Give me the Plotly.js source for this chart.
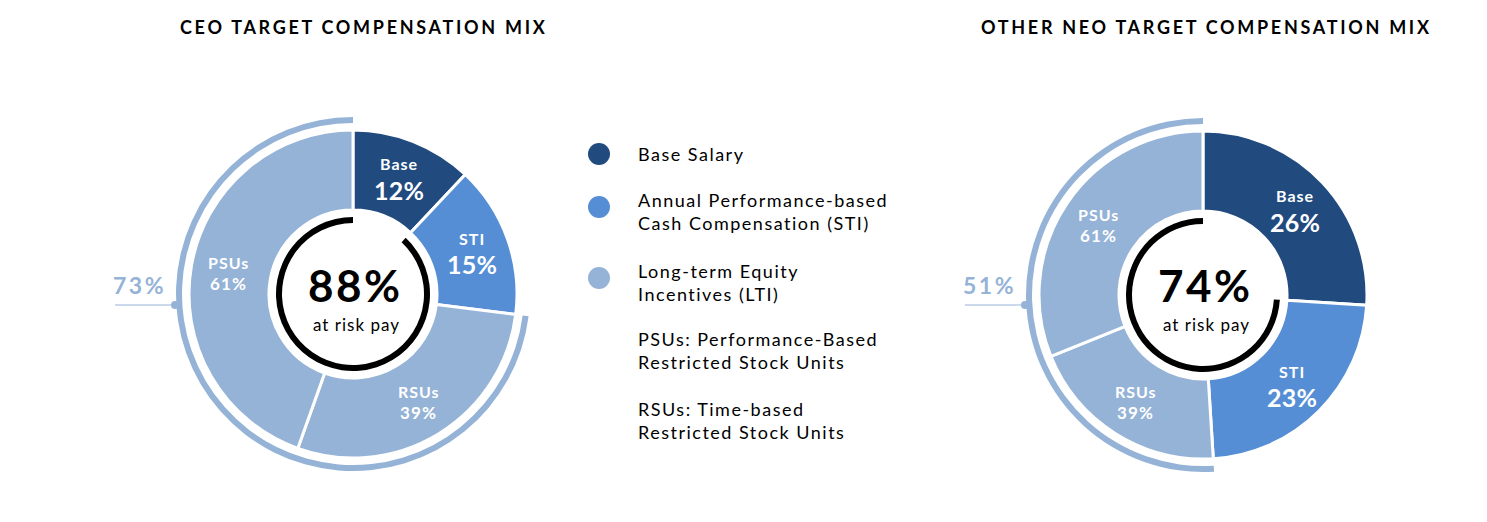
<!DOCTYPE html>
<html>
<head>
<meta charset="utf-8">
<script src="https://cdn.plot.ly/plotly-3.0.1.min.js"></script>
<style>
html,body{margin:0;padding:0;background:#fff;}
#chart{width:1487px;height:522px;}
</style>
</head>
<body>
<div id="chart"></div>
<script>
// ---- data ----
const chartTitles = ['CEO TARGET COMPENSATION MIX', 'OTHER NEO TARGET COMPENSATION MIX'];
const componentLabels = ['Base', 'STI', 'LTI'];
const ceoMix = [12, 15, 73];          // Base, STI, LTI (% of target pay)
const neoMix = [26, 23, 51];
const ltiSplitLabels = ['RSUs', 'PSUs'];
const ceoLtiSplit = [39, 61];         // % of LTI
const neoLtiSplit = [39, 61];
const atRiskPay = [88, 74];           // CEO, other NEO
const atRiskLabel = 'at risk pay';
const legendDotLabels = [['Base Salary'], ['Annual Performance-based', 'Cash Compensation (STI)'], ['Long-term Equity', 'Incentives (LTI)']];
const legendNotes = [['PSUs: Performance-Based', 'Restricted Stock Units'], ['RSUs: Time-based', 'Restricted Stock Units']];

// ---- styles ----
const W = 1487, H = 522;
const COLORS = {Base: '#214a7f', STI: '#558ed5', LTI: '#95b3d7'};
const FONT = 'Lato, "Open Sans", sans-serif';
const charts = [
  {title: chartTitles[0], mix: ceoMix, split: ceoLtiSplit, risk: atRiskPay[0], cx: 353, cy: 294, titleX: 363},
  {title: chartTitles[1], mix: neoMix, split: neoLtiSplit, risk: atRiskPay[1], cx: 1203, cy: 295, titleX: 1206}
];
const R = 164, HOLE = 84 / 164;
const RING_OUT = 77, RING_IN = 71;
const ARC_OUT = 177, ARC_IN = 171;
const LABEL_R = 126;

const px = x => x / W;
const py = y => 1 - y / H;
function dom(cx, cy, r) {
  return {x: [px(cx - r), px(cx + r)], y: [py(cy + r), py(cy - r)]};
}
// wrap each line in a letter-spaced span
function sp(lines, ls, bold) {
  return lines.map(l => {
    const t = bold ? '<b>' + l + '</b>' : l;
    return '<span style="letter-spacing:' + ls + 'px">' + t + '</span>';
  }).join('<br>');
}

const traces = [];
const annotations = [];
const shapes = [];

charts.forEach(c => {
  const lti = c.mix[2];
  const sliceVals = [c.mix[0], c.mix[1], lti * c.split[0] / 100, lti * c.split[1] / 100];
  const sliceNames = [componentLabels[0], componentLabels[1], ltiSplitLabels[0], ltiSplitLabels[1]];
  const sliceCols = [COLORS.Base, COLORS.STI, COLORS.LTI, COLORS.LTI];
  // main donut
  traces.push({
    type: 'pie', values: sliceVals, labels: sliceNames.map(n => c.title + n),
    domain: dom(c.cx, c.cy, R), hole: HOLE, sort: false, direction: 'clockwise', rotation: 0,
    marker: {colors: sliceCols, line: {color: '#ffffff', width: 3}},
    textinfo: 'none', hoverinfo: 'skip', showlegend: false
  });
  // outer LTI arc
  traces.push({
    type: 'pie', values: [c.mix[0] + c.mix[1], lti], labels: [c.title + 'nonLTI', c.title + 'LTIarc'],
    domain: dom(c.cx, c.cy, ARC_OUT), hole: ARC_IN / ARC_OUT, sort: false, direction: 'clockwise', rotation: 0,
    marker: {colors: ['rgba(0,0,0,0)', COLORS.LTI], line: {width: 0}},
    textinfo: 'none', hoverinfo: 'skip', showlegend: false
  });
  // inner at-risk ring
  traces.push({
    type: 'pie', values: [100 - c.risk, c.risk], labels: [c.title + 'fixed', c.title + 'risk'],
    domain: dom(c.cx, c.cy, RING_OUT), hole: RING_IN / RING_OUT, sort: false, direction: 'clockwise', rotation: 0,
    marker: {colors: ['rgba(0,0,0,0)', '#000000'], line: {width: 0}},
    textinfo: 'none', hoverinfo: 'skip', showlegend: false
  });

  // title
  annotations.push({xref: 'paper', yref: 'paper', x: px(c.titleX), y: py(27), xanchor: 'center', yanchor: 'middle',
    text: sp([c.title], 2.7, true), showarrow: false, font: {family: FONT, size: 18, color: '#000'}});

  // slice labels
  const total = sliceVals.reduce((a, b) => a + b, 0);
  let cum = 0;
  const shown = [c.mix[0], c.mix[1], c.split[0], c.split[1]];
  sliceVals.forEach((v, i) => {
    const th = (cum + v / 2) / total * 2 * Math.PI;
    cum += v;
    const lx = c.cx + LABEL_R * Math.sin(th);
    const ly = c.cy - LABEL_R * Math.cos(th);
    const big = i < 2;
    annotations.push({xref: 'paper', yref: 'paper', x: px(lx), y: py(ly - (big ? 13 : 10)), xanchor: 'center', yanchor: 'middle',
      text: sp([sliceNames[i]], 1, true), showarrow: false, font: {family: FONT, size: 16, color: '#fff'}});
    annotations.push({xref: 'paper', yref: 'paper', x: px(lx), y: py(ly + (big ? 13 : 11)), xanchor: 'center', yanchor: 'middle',
      text: sp([shown[i] + '%'], big ? 0.3 : 1.2, true), showarrow: false, font: {family: FONT, size: big ? 25 : 17, color: '#fff'}});
  });

  // center
  annotations.push({xref: 'paper', yref: 'paper', x: px(c.cx + 2), y: py(285), xanchor: 'center', yanchor: 'middle',
    text: sp([c.risk + '%'], 2.5, true), showarrow: false, font: {family: FONT, size: 44, color: '#000'}});
  annotations.push({xref: 'paper', yref: 'paper', x: px(c.cx + 3), y: py(324), xanchor: 'center', yanchor: 'middle',
    text: sp([atRiskLabel], 1, false), showarrow: false, font: {family: FONT, size: 17, color: '#000'}});

  // LTI callout
  annotations.push({xref: 'paper', yref: 'paper', x: px(c.cx - 214), y: py(285), xanchor: 'center', yanchor: 'middle',
    text: sp([lti + '%'], 2.5, true), showarrow: false, font: {family: FONT, size: 23, color: COLORS.LTI}});
  shapes.push({type: 'line', xref: 'paper', yref: 'paper', x0: px(c.cx - 238), x1: px(c.cx - 178), y0: py(305), y1: py(305),
    line: {color: COLORS.LTI, width: 1.2}});
  shapes.push({type: 'circle', xref: 'paper', yref: 'paper', xsizemode: 'pixel', ysizemode: 'pixel',
    xanchor: px(c.cx - 178), yanchor: py(305), x0: -4, x1: 4, y0: -4, y1: 4,
    fillcolor: COLORS.LTI, line: {width: 0}});
});

// legend
const dotY = [154, 207, 278];
const textY = [154, 211.5, 282];
const dotCols = [COLORS.Base, COLORS.STI, COLORS.LTI];
legendDotLabels.forEach((t, i) => {
  shapes.push({type: 'circle', xref: 'paper', yref: 'paper', xsizemode: 'pixel', ysizemode: 'pixel',
    xanchor: px(599), yanchor: py(dotY[i]), x0: -11, x1: 11, y0: -11, y1: 11,
    fillcolor: dotCols[i], line: {width: 0}});
  annotations.push({xref: 'paper', yref: 'paper', x: px(636), y: py(textY[i]), xanchor: 'left', yanchor: 'middle', align: 'left',
    text: sp(t, 1.5, false), showarrow: false, font: {family: FONT, size: 18, color: '#000'}});
});
const noteY = [350, 420];
legendNotes.forEach((t, i) => {
  annotations.push({xref: 'paper', yref: 'paper', x: px(636), y: py(noteY[i]), xanchor: 'left', yanchor: 'middle', align: 'left',
    text: sp(t, 1.5, false), showarrow: false, font: {family: FONT, size: 18, color: '#000'}});
});

const layout = {
  width: W, height: H, margin: {l: 0, r: 0, t: 0, b: 0},
  paper_bgcolor: '#fff', plot_bgcolor: '#fff', showlegend: false,
  annotations: annotations, shapes: shapes, font: {family: FONT}
};
Plotly.newPlot('chart', traces, layout, {displayModeBar: false, staticPlot: true});
</script>
</body>
</html>
